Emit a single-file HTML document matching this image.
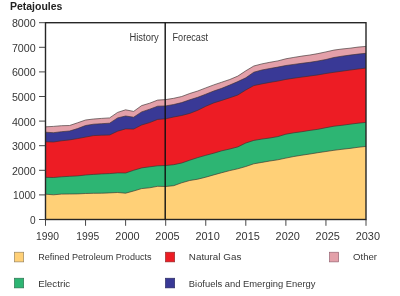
<!DOCTYPE html>
<html><head><meta charset="utf-8"><style>
html,body{margin:0;padding:0;background:#fff;}
svg{display:block;will-change:transform;}
text{font-family:"Liberation Sans",sans-serif;fill:#363636;}
</style></head><body>
<svg width="400" height="296" viewBox="0 0 400 296">
<rect width="400" height="296" fill="#fff"/>
<path d="M45.50,126.80 L53.51,126.40 L61.52,125.70 L69.54,125.50 L77.55,122.80 L85.56,120.00 L93.57,119.00 L101.59,118.40 L109.60,117.90 L117.61,112.40 L125.62,109.80 L133.64,111.40 L141.65,105.60 L149.66,103.20 L157.67,100.10 L165.69,99.60 L173.70,98.30 L181.71,96.50 L189.72,93.50 L197.74,91.00 L205.75,87.90 L213.76,84.90 L221.77,82.20 L229.79,79.50 L237.80,76.10 L245.81,70.80 L253.82,66.00 L261.84,63.90 L269.85,62.30 L277.86,60.90 L285.88,58.80 L293.89,57.40 L301.90,56.10 L309.91,55.00 L317.92,53.60 L325.94,51.90 L333.95,50.10 L341.96,49.00 L349.97,48.20 L357.99,47.10 L366.00,46.40 L366.00,219.50 L45.50,219.50Z" fill="#E3A0A9"/>
<path d="M45.50,132.20 L53.51,132.70 L61.52,131.70 L69.54,131.00 L77.55,128.60 L85.56,125.50 L93.57,124.20 L101.59,123.70 L109.60,123.20 L117.61,117.90 L125.62,116.00 L133.64,117.20 L141.65,111.90 L149.66,109.20 L157.67,106.20 L165.69,105.90 L173.70,104.50 L181.71,102.60 L189.72,99.80 L197.74,97.30 L205.75,94.20 L213.76,91.00 L221.77,88.30 L229.79,85.00 L237.80,81.60 L245.81,77.80 L253.82,72.20 L261.84,70.00 L269.85,68.50 L277.86,67.10 L285.88,65.50 L293.89,64.40 L301.90,63.30 L309.91,62.30 L317.92,61.00 L325.94,59.50 L333.95,57.50 L341.96,56.20 L349.97,55.10 L357.99,54.10 L366.00,53.30 L366.00,219.50 L45.50,219.50Z" fill="#393996"/>
<path d="M45.50,141.80 L53.51,142.00 L61.52,140.80 L69.54,139.90 L77.55,138.60 L85.56,137.10 L93.57,135.60 L101.59,135.20 L109.60,135.00 L117.61,131.20 L125.62,128.90 L133.64,129.10 L141.65,125.00 L149.66,122.60 L157.67,119.40 L165.69,118.80 L173.70,117.00 L181.71,115.50 L189.72,113.40 L197.74,110.30 L205.75,106.30 L213.76,102.90 L221.77,100.40 L229.79,97.80 L237.80,95.00 L245.81,90.00 L253.82,85.60 L261.84,83.90 L269.85,82.40 L277.86,81.10 L285.88,79.40 L293.89,78.20 L301.90,77.10 L309.91,76.00 L317.92,74.90 L325.94,73.50 L333.95,72.30 L341.96,71.20 L349.97,70.10 L357.99,69.00 L366.00,68.10 L366.00,219.50 L45.50,219.50Z" fill="#ED1C24"/>
<path d="M45.50,177.30 L53.51,177.50 L61.52,176.80 L69.54,176.30 L77.55,175.90 L85.56,175.00 L93.57,174.40 L101.59,173.90 L109.60,173.60 L117.61,172.90 L125.62,173.00 L133.64,170.30 L141.65,167.90 L149.66,166.80 L157.67,165.80 L165.69,165.50 L173.70,164.70 L181.71,163.00 L189.72,160.20 L197.74,157.60 L205.75,155.30 L213.76,153.20 L221.77,150.80 L229.79,149.00 L237.80,146.90 L245.81,143.00 L253.82,140.40 L261.84,139.10 L269.85,138.00 L277.86,136.60 L285.88,134.20 L293.89,132.80 L301.90,131.70 L309.91,130.40 L317.92,129.30 L325.94,127.70 L333.95,126.20 L341.96,125.30 L349.97,124.20 L357.99,123.20 L366.00,122.40 L366.00,219.50 L45.50,219.50Z" fill="#2DB573"/>
<path d="M45.50,194.20 L53.51,194.80 L61.52,194.10 L69.54,194.00 L77.55,193.90 L85.56,193.50 L93.57,193.30 L101.59,193.20 L109.60,192.90 L117.61,192.50 L125.62,193.20 L133.64,191.00 L141.65,188.60 L149.66,187.80 L157.67,186.30 L165.69,186.50 L173.70,185.70 L181.71,182.80 L189.72,180.50 L197.74,179.20 L205.75,177.20 L213.76,174.90 L221.77,172.70 L229.79,170.60 L237.80,168.80 L245.81,166.50 L253.82,163.80 L261.84,162.40 L269.85,161.00 L277.86,159.80 L285.88,158.10 L293.89,156.50 L301.90,155.20 L309.91,154.00 L317.92,152.70 L325.94,151.50 L333.95,150.30 L341.96,149.30 L349.97,148.40 L357.99,147.30 L366.00,146.40 L366.00,219.50 L45.50,219.50Z" fill="#FFD077"/>
<polyline fill="none" stroke="#3a3030" stroke-width="0.8" stroke-opacity="0.8" points="45.50,126.80 53.51,126.40 61.52,125.70 69.54,125.50 77.55,122.80 85.56,120.00 93.57,119.00 101.59,118.40 109.60,117.90 117.61,112.40 125.62,109.80 133.64,111.40 141.65,105.60 149.66,103.20 157.67,100.10 165.69,99.60 173.70,98.30 181.71,96.50 189.72,93.50 197.74,91.00 205.75,87.90 213.76,84.90 221.77,82.20 229.79,79.50 237.80,76.10 245.81,70.80 253.82,66.00 261.84,63.90 269.85,62.30 277.86,60.90 285.88,58.80 293.89,57.40 301.90,56.10 309.91,55.00 317.92,53.60 325.94,51.90 333.95,50.10 341.96,49.00 349.97,48.20 357.99,47.10 366.00,46.40"/>
<polyline fill="none" stroke="#3a3030" stroke-width="0.8" stroke-opacity="0.8" points="45.50,132.20 53.51,132.70 61.52,131.70 69.54,131.00 77.55,128.60 85.56,125.50 93.57,124.20 101.59,123.70 109.60,123.20 117.61,117.90 125.62,116.00 133.64,117.20 141.65,111.90 149.66,109.20 157.67,106.20 165.69,105.90 173.70,104.50 181.71,102.60 189.72,99.80 197.74,97.30 205.75,94.20 213.76,91.00 221.77,88.30 229.79,85.00 237.80,81.60 245.81,77.80 253.82,72.20 261.84,70.00 269.85,68.50 277.86,67.10 285.88,65.50 293.89,64.40 301.90,63.30 309.91,62.30 317.92,61.00 325.94,59.50 333.95,57.50 341.96,56.20 349.97,55.10 357.99,54.10 366.00,53.30"/>
<polyline fill="none" stroke="#3a3030" stroke-width="0.8" stroke-opacity="0.8" points="45.50,141.80 53.51,142.00 61.52,140.80 69.54,139.90 77.55,138.60 85.56,137.10 93.57,135.60 101.59,135.20 109.60,135.00 117.61,131.20 125.62,128.90 133.64,129.10 141.65,125.00 149.66,122.60 157.67,119.40 165.69,118.80 173.70,117.00 181.71,115.50 189.72,113.40 197.74,110.30 205.75,106.30 213.76,102.90 221.77,100.40 229.79,97.80 237.80,95.00 245.81,90.00 253.82,85.60 261.84,83.90 269.85,82.40 277.86,81.10 285.88,79.40 293.89,78.20 301.90,77.10 309.91,76.00 317.92,74.90 325.94,73.50 333.95,72.30 341.96,71.20 349.97,70.10 357.99,69.00 366.00,68.10"/>
<polyline fill="none" stroke="#3a3030" stroke-width="0.8" stroke-opacity="0.8" points="45.50,177.30 53.51,177.50 61.52,176.80 69.54,176.30 77.55,175.90 85.56,175.00 93.57,174.40 101.59,173.90 109.60,173.60 117.61,172.90 125.62,173.00 133.64,170.30 141.65,167.90 149.66,166.80 157.67,165.80 165.69,165.50 173.70,164.70 181.71,163.00 189.72,160.20 197.74,157.60 205.75,155.30 213.76,153.20 221.77,150.80 229.79,149.00 237.80,146.90 245.81,143.00 253.82,140.40 261.84,139.10 269.85,138.00 277.86,136.60 285.88,134.20 293.89,132.80 301.90,131.70 309.91,130.40 317.92,129.30 325.94,127.70 333.95,126.20 341.96,125.30 349.97,124.20 357.99,123.20 366.00,122.40"/>
<polyline fill="none" stroke="#3a3030" stroke-width="0.8" stroke-opacity="0.8" points="45.50,194.20 53.51,194.80 61.52,194.10 69.54,194.00 77.55,193.90 85.56,193.50 93.57,193.30 101.59,193.20 109.60,192.90 117.61,192.50 125.62,193.20 133.64,191.00 141.65,188.60 149.66,187.80 157.67,186.30 165.69,186.50 173.70,185.70 181.71,182.80 189.72,180.50 197.74,179.20 205.75,177.20 213.76,174.90 221.77,172.70 229.79,170.60 237.80,168.80 245.81,166.50 253.82,163.80 261.84,162.40 269.85,161.00 277.86,159.80 285.88,158.10 293.89,156.50 301.90,155.20 309.91,154.00 317.92,152.70 325.94,151.50 333.95,150.30 341.96,149.30 349.97,148.40 357.99,147.30 366.00,146.40"/>
<rect x="45.5" y="22.7" width="320.5" height="196.8" fill="none" stroke="#262626" stroke-width="1.4"/>
<line x1="165.2" y1="22.7" x2="165.2" y2="219.5" stroke="#111" stroke-width="1.4"/>
<line x1="39" y1="219.50" x2="45.5" y2="219.50" stroke="#333" stroke-width="0.9"/><text x="35.7" y="224.20" text-anchor="end" font-size="10.3" textLength="5.6" lengthAdjust="spacingAndGlyphs">0</text><line x1="39" y1="194.90" x2="45.5" y2="194.90" stroke="#333" stroke-width="0.9"/><text x="35.7" y="199.30" text-anchor="end" font-size="10.3" textLength="22.6" lengthAdjust="spacingAndGlyphs">1000</text><line x1="39" y1="170.30" x2="45.5" y2="170.30" stroke="#333" stroke-width="0.9"/><text x="35.7" y="174.70" text-anchor="end" font-size="10.3" textLength="23.8" lengthAdjust="spacingAndGlyphs">2000</text><line x1="39" y1="145.70" x2="45.5" y2="145.70" stroke="#333" stroke-width="0.9"/><text x="35.7" y="150.10" text-anchor="end" font-size="10.3" textLength="23.8" lengthAdjust="spacingAndGlyphs">3000</text><line x1="39" y1="121.10" x2="45.5" y2="121.10" stroke="#333" stroke-width="0.9"/><text x="35.7" y="125.50" text-anchor="end" font-size="10.3" textLength="23.8" lengthAdjust="spacingAndGlyphs">4000</text><line x1="39" y1="96.50" x2="45.5" y2="96.50" stroke="#333" stroke-width="0.9"/><text x="35.7" y="100.90" text-anchor="end" font-size="10.3" textLength="23.8" lengthAdjust="spacingAndGlyphs">5000</text><line x1="39" y1="71.90" x2="45.5" y2="71.90" stroke="#333" stroke-width="0.9"/><text x="35.7" y="76.30" text-anchor="end" font-size="10.3" textLength="23.8" lengthAdjust="spacingAndGlyphs">6000</text><line x1="39" y1="47.30" x2="45.5" y2="47.30" stroke="#333" stroke-width="0.9"/><text x="35.7" y="51.70" text-anchor="end" font-size="10.3" textLength="23.8" lengthAdjust="spacingAndGlyphs">7000</text><line x1="39" y1="22.70" x2="45.5" y2="22.70" stroke="#333" stroke-width="0.9"/><text x="35.7" y="27.10" text-anchor="end" font-size="10.3" textLength="23.8" lengthAdjust="spacingAndGlyphs">8000</text>
<line x1="45.50" y1="219.5" x2="45.50" y2="225.8" stroke="#333" stroke-width="0.9"/><text x="47.60" y="239.5" text-anchor="middle" font-size="10.4" textLength="23" lengthAdjust="spacingAndGlyphs">1990</text><line x1="85.56" y1="219.5" x2="85.56" y2="225.8" stroke="#333" stroke-width="0.9"/><text x="87.66" y="239.5" text-anchor="middle" font-size="10.4" textLength="23" lengthAdjust="spacingAndGlyphs">1995</text><line x1="125.62" y1="219.5" x2="125.62" y2="225.8" stroke="#333" stroke-width="0.9"/><text x="127.47" y="239.5" text-anchor="middle" font-size="10.4" textLength="24.3" lengthAdjust="spacingAndGlyphs">2000</text><line x1="165.69" y1="219.5" x2="165.69" y2="225.8" stroke="#333" stroke-width="0.9"/><text x="167.54" y="239.5" text-anchor="middle" font-size="10.4" textLength="24.3" lengthAdjust="spacingAndGlyphs">2005</text><line x1="205.75" y1="219.5" x2="205.75" y2="225.8" stroke="#333" stroke-width="0.9"/><text x="207.60" y="239.5" text-anchor="middle" font-size="10.4" textLength="24.3" lengthAdjust="spacingAndGlyphs">2010</text><line x1="245.81" y1="219.5" x2="245.81" y2="225.8" stroke="#333" stroke-width="0.9"/><text x="247.66" y="239.5" text-anchor="middle" font-size="10.4" textLength="24.3" lengthAdjust="spacingAndGlyphs">2015</text><line x1="285.88" y1="219.5" x2="285.88" y2="225.8" stroke="#333" stroke-width="0.9"/><text x="287.73" y="239.5" text-anchor="middle" font-size="10.4" textLength="24.3" lengthAdjust="spacingAndGlyphs">2020</text><line x1="325.94" y1="219.5" x2="325.94" y2="225.8" stroke="#333" stroke-width="0.9"/><text x="327.79" y="239.5" text-anchor="middle" font-size="10.4" textLength="24.3" lengthAdjust="spacingAndGlyphs">2025</text><line x1="366.00" y1="219.5" x2="366.00" y2="225.8" stroke="#333" stroke-width="0.9"/><text x="367.85" y="239.5" text-anchor="middle" font-size="10.4" textLength="24.3" lengthAdjust="spacingAndGlyphs">2030</text>
<text x="10" y="9.6" font-size="10.3" font-weight="bold" fill="#222" style="fill:#222" textLength="52.4" lengthAdjust="spacingAndGlyphs">Petajoules</text>
<text x="129.5" y="40.5" font-size="10" textLength="29.25" lengthAdjust="spacingAndGlyphs">History</text>
<text x="172.5" y="40.5" font-size="10" textLength="35.5" lengthAdjust="spacingAndGlyphs">Forecast</text>
<rect x="14.4" y="252.2" width="9.3" height="9.7" fill="#FFD077" stroke="#8a7a5a" stroke-width="0.6"/>
<rect x="14.4" y="278.2" width="9.3" height="9.7" fill="#2DB573" stroke="#2a6a4a" stroke-width="0.6"/>
<rect x="165.4" y="252.2" width="9.3" height="9.7" fill="#ED1C24" stroke="#8a2a2a" stroke-width="0.6"/>
<rect x="165.4" y="278.2" width="9.3" height="9.7" fill="#393996" stroke="#2a2a5a" stroke-width="0.6"/>
<rect x="329.4" y="252.2" width="9.3" height="9.7" fill="#E3A0A9" stroke="#8a5a6a" stroke-width="0.6"/>
<text x="38.2" y="260.3" font-size="9.7" textLength="113.4" lengthAdjust="spacingAndGlyphs">Refined Petroleum Products</text>
<text x="38.2" y="286.7" font-size="9.7" textLength="32" lengthAdjust="spacingAndGlyphs">Electric</text>
<text x="188.8" y="260.3" font-size="9.7" textLength="52.5" lengthAdjust="spacingAndGlyphs">Natural Gas</text>
<text x="188.8" y="286.7" font-size="9.7" textLength="126.7" lengthAdjust="spacingAndGlyphs">Biofuels and Emerging Energy</text>
<text x="353" y="260.3" font-size="9.7" textLength="24" lengthAdjust="spacingAndGlyphs">Other</text>
</svg>
</body></html>
